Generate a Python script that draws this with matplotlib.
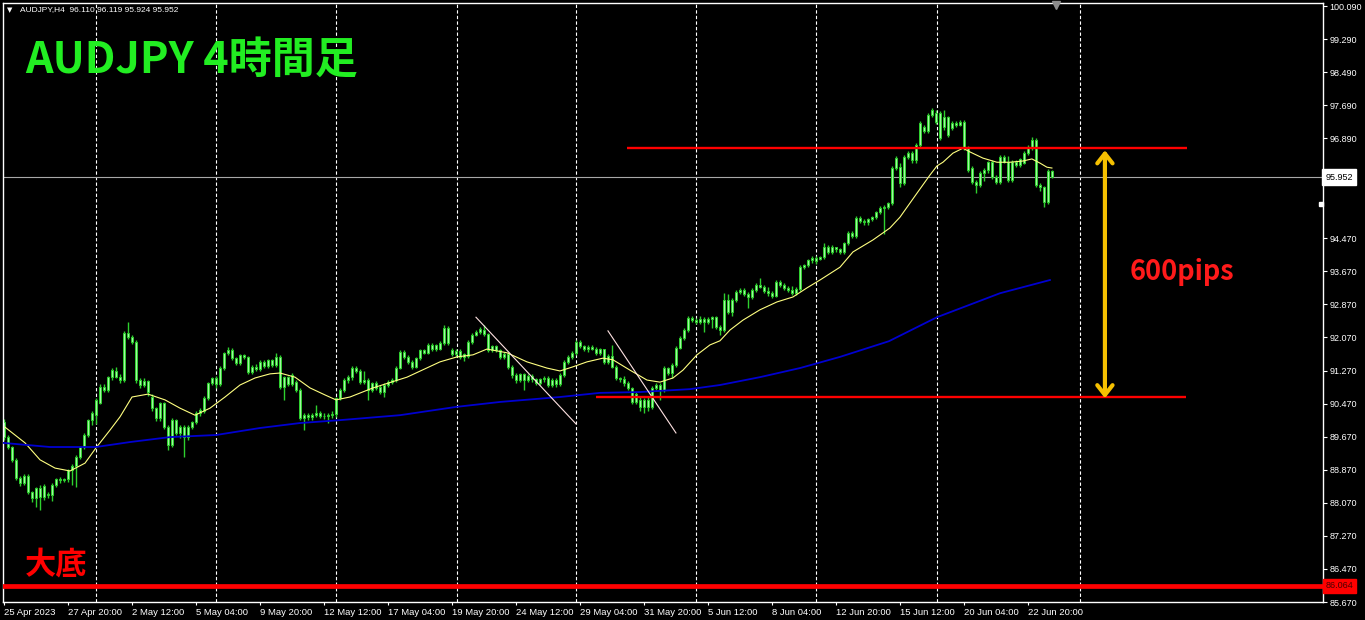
import matplotlib
matplotlib.use('Agg')
import matplotlib.pyplot as plt
import numpy as np

plt.rcParams['font.family'] = ['Liberation Sans', 'DejaVu Sans']

# ---------------- data (AUDJPY H4) ----------------
opens = [
 90.02, 89.66, 89.42, 89.11, 88.67, 88.55, 88.72, 88.33, 88.19, 88.43,
 88.21, 88.28, 88.25, 88.50, 88.65, 88.62, 88.65, 88.86, 88.96, 89.18,
 89.42, 89.71, 90.07, 90.20, 90.48, 90.87, 90.80, 91.11, 91.26, 91.12,
 91.04, 92.18, 92.07, 91.97, 91.04, 90.92, 91.02, 90.63, 90.36, 90.12,
 90.48, 89.90, 89.47, 90.07, 89.76, 89.90, 89.66, 89.90, 90.02, 90.24,
 90.30, 90.60, 90.97, 91.09, 90.95, 91.33, 91.69, 91.77, 91.57, 91.45,
 91.64, 91.60, 91.24, 91.36, 91.30, 91.48, 91.38, 91.52, 91.40, 91.60,
 90.87, 91.11, 90.95, 91.00, 90.80, 90.12, 90.19, 90.14, 90.20, 90.24,
 90.18, 90.16, 90.20, 90.22, 90.60, 90.80, 91.04, 91.11, 91.33, 91.26,
 90.99, 91.05, 90.80, 90.97, 90.88, 90.75, 90.92, 90.99, 91.04, 91.33,
 91.72, 91.60, 91.48, 91.36, 91.57, 91.77, 91.70, 91.89, 91.78, 91.80,
 91.94, 92.30, 91.77, 91.68, 91.75, 91.60, 91.62, 91.96, 92.13, 92.20,
 92.25, 92.15, 91.77, 91.86, 91.76, 91.60, 91.68, 91.36, 91.16, 91.04,
 91.18, 91.04, 91.14, 91.06, 90.97, 91.06, 91.10, 90.92, 91.05, 90.94,
 91.16, 91.48, 91.60, 91.69, 91.96, 91.86, 91.78, 91.84, 91.80, 91.70,
 91.78, 91.48, 91.62, 91.36, 91.09, 91.06, 90.98, 90.85, 90.51, 90.56,
 90.40, 90.55, 90.38, 90.85, 90.92, 90.80, 91.33, 91.20, 91.40, 91.82,
 92.06, 92.25, 92.54, 92.50, 92.44, 92.52, 92.44, 92.52, 92.56, 92.32,
 92.26, 92.98, 92.69, 92.98, 93.17, 93.22, 93.13, 93.04, 93.22, 93.34,
 93.30, 93.19, 93.14, 93.08, 93.41, 93.34, 93.27, 93.22, 93.15, 93.24,
 93.77, 93.82, 93.94, 93.99, 93.98, 94.01, 94.26, 94.15, 94.25, 94.20,
 94.14, 94.35, 94.60, 94.52, 94.96, 94.90, 94.86, 94.93, 94.99, 95.10,
 95.20, 95.22, 95.32, 96.17, 96.20, 95.81, 96.44, 96.53, 96.36, 96.73,
 97.16, 97.07, 97.45, 97.28, 97.50, 97.16, 97.40, 97.14, 97.26, 97.20,
 97.28, 96.65, 96.17, 95.83, 95.76, 96.05, 96.12, 96.31, 95.95, 95.83,
 96.44, 96.32, 95.88, 96.31, 96.25, 96.30, 96.53, 96.68, 96.85, 95.76,
 95.70, 95.35, 96.110]
highs = [
 90.10, 89.72, 89.45, 89.15, 88.72, 88.76, 88.76, 88.36, 88.46, 88.50,
 88.52, 88.32, 88.55, 88.68, 88.70, 88.68, 88.90, 89.00, 89.22, 89.45,
 89.75, 90.10, 90.30, 90.60, 90.94, 90.95, 91.15, 91.33, 91.35, 91.18,
 92.22, 92.44, 92.12, 92.02, 91.08, 91.08, 91.05, 90.70, 90.40, 90.52,
 90.52, 89.95, 90.12, 90.10, 89.95, 89.95, 89.95, 90.05, 90.28, 90.36,
 90.65, 91.00, 91.12, 91.13, 91.37, 91.73, 91.84, 91.82, 91.60, 91.68,
 91.66, 91.63, 91.40, 91.42, 91.52, 91.52, 91.56, 91.56, 91.69, 91.64,
 91.15, 91.14, 91.20, 91.05, 90.85, 90.24, 90.24, 90.24, 90.44, 90.28,
 90.25, 90.25, 90.28, 90.64, 90.85, 91.08, 91.16, 91.38, 91.38, 91.30,
 91.26, 91.10, 91.00, 91.02, 90.92, 90.96, 91.03, 91.08, 91.37, 91.76,
 91.76, 91.64, 91.52, 91.60, 91.80, 91.80, 91.93, 91.93, 91.92, 91.98,
 92.37, 92.35, 91.82, 91.80, 91.78, 91.70, 92.00, 92.18, 92.24, 92.32,
 92.37, 92.18, 91.90, 91.90, 91.80, 91.72, 91.72, 91.40, 91.22, 91.22,
 91.22, 91.18, 91.18, 91.10, 91.10, 91.14, 91.14, 91.10, 91.08, 91.20,
 91.52, 91.64, 91.74, 92.00, 92.00, 91.90, 91.88, 91.90, 91.84, 91.82,
 91.80, 91.66, 91.90, 91.40, 91.12, 91.14, 91.02, 90.88, 90.74, 90.62,
 90.60, 90.62, 90.90, 90.96, 90.98, 91.37, 91.36, 91.45, 91.86, 92.10,
 92.30, 92.58, 92.58, 92.55, 92.58, 92.56, 92.56, 92.60, 92.60, 92.36,
 93.15, 93.12, 93.02, 93.22, 93.26, 93.26, 93.18, 93.26, 93.38, 93.51,
 93.34, 93.30, 93.20, 93.46, 93.46, 93.38, 93.32, 93.32, 93.28, 93.82,
 93.86, 93.98, 94.04, 94.04, 94.05, 94.35, 94.30, 94.30, 94.26, 94.24,
 94.39, 94.65, 94.65, 95.00, 95.00, 94.94, 94.97, 95.02, 95.14, 95.24,
 95.28, 95.36, 96.22, 96.45, 96.30, 96.48, 96.58, 96.58, 96.78, 97.30,
 97.22, 97.50, 97.62, 97.58, 97.55, 97.57, 97.44, 97.30, 97.30, 97.32,
 97.33, 96.70, 96.22, 95.88, 96.10, 96.16, 96.35, 96.36, 96.00, 96.48,
 96.48, 96.46, 96.36, 96.36, 96.42, 96.58, 96.72, 96.92, 96.90, 95.80,
 95.74, 96.14, 96.119]
lows = [
 89.60, 89.38, 89.05, 88.62, 88.48, 88.50, 88.28, 88.09, 87.97, 87.90,
 88.15, 88.18, 88.12, 88.45, 88.55, 88.58, 88.58, 88.50, 88.45, 89.12,
 89.38, 89.66, 89.95, 89.98, 90.45, 90.75, 90.76, 91.05, 91.08, 90.97,
 91.00, 92.03, 91.92, 90.98, 90.85, 90.88, 90.66, 90.30, 90.05, 90.05,
 89.85, 89.35, 89.42, 89.70, 89.65, 89.18, 89.60, 89.85, 89.97, 90.18,
 90.25, 90.55, 90.92, 90.85, 90.90, 91.28, 91.64, 91.52, 91.40, 91.40,
 91.55, 91.18, 91.18, 91.25, 91.26, 91.33, 91.34, 91.35, 91.36, 90.82,
 90.56, 90.90, 90.90, 90.76, 90.08, 89.83, 90.08, 90.08, 90.14, 90.12,
 90.10, 90.00, 90.12, 90.15, 90.55, 90.75, 90.98, 91.05, 91.20, 90.95,
 90.95, 90.56, 90.76, 90.80, 90.70, 90.64, 90.88, 90.95, 91.00, 91.30,
 91.55, 91.44, 91.30, 91.32, 91.52, 91.66, 91.66, 91.74, 91.74, 91.76,
 91.90, 91.90, 91.62, 91.60, 91.55, 91.50, 91.58, 91.92, 92.10, 92.15,
 92.10, 91.72, 91.72, 91.72, 91.55, 91.55, 91.30, 91.10, 90.98, 91.00,
 90.80, 91.00, 91.00, 90.92, 90.92, 91.00, 90.88, 90.88, 90.86, 90.90,
 91.12, 91.44, 91.56, 91.65, 91.82, 91.74, 91.72, 91.76, 91.65, 91.64,
 91.44, 91.44, 91.32, 91.04, 91.00, 90.90, 90.80, 90.46, 90.46, 90.30,
 90.25, 90.30, 90.34, 90.80, 90.55, 90.76, 91.16, 91.10, 91.36, 91.78,
 92.02, 92.20, 92.45, 92.40, 92.40, 92.20, 92.40, 92.30, 92.28, 92.13,
 92.20, 92.64, 92.60, 92.94, 93.12, 93.08, 92.78, 93.00, 93.18, 93.26,
 93.14, 93.08, 93.02, 93.04, 93.30, 93.22, 93.16, 93.10, 93.10, 93.20,
 93.72, 93.78, 93.88, 93.86, 93.94, 93.98, 94.10, 94.10, 94.15, 94.08,
 94.10, 94.30, 94.48, 94.48, 94.85, 94.80, 94.80, 94.90, 94.94, 95.06,
 94.58, 95.18, 95.28, 96.12, 95.70, 95.76, 96.40, 96.30, 96.30, 96.68,
 97.02, 97.02, 97.40, 97.24, 96.85, 97.10, 96.92, 97.08, 97.16, 97.18,
 96.60, 96.08, 95.78, 95.57, 95.70, 95.85, 96.05, 95.90, 95.78, 95.78,
 96.28, 95.84, 95.84, 96.20, 96.20, 96.26, 96.48, 96.60, 95.72, 95.62,
 95.23, 95.30, 95.924]
closes = [
 89.66, 89.42, 89.11, 88.67, 88.55, 88.72, 88.33, 88.19, 88.43, 88.21,
 88.48, 88.25, 88.50, 88.65, 88.62, 88.65, 88.86, 88.96, 89.18, 89.42,
 89.71, 90.07, 90.24, 90.56, 90.87, 90.80, 91.11, 91.28, 91.12, 91.04,
 92.18, 92.07, 91.97, 91.04, 90.92, 91.02, 90.75, 90.36, 90.12, 90.48,
 89.90, 89.47, 90.07, 89.76, 89.90, 89.66, 89.90, 90.02, 90.24, 90.32,
 90.60, 90.97, 91.09, 90.95, 91.33, 91.69, 91.77, 91.57, 91.45, 91.64,
 91.60, 91.24, 91.36, 91.30, 91.48, 91.38, 91.52, 91.40, 91.60, 90.87,
 91.11, 90.95, 91.16, 90.80, 90.12, 90.19, 90.14, 90.20, 90.24, 90.18,
 90.16, 90.20, 90.22, 90.60, 90.80, 91.04, 91.11, 91.33, 91.26, 90.99,
 91.05, 90.80, 90.97, 90.85, 90.75, 90.92, 90.99, 91.04, 91.33, 91.72,
 91.60, 91.48, 91.36, 91.57, 91.77, 91.70, 91.89, 91.78, 91.89, 91.94,
 92.30, 91.94, 91.68, 91.75, 91.60, 91.66, 91.96, 92.13, 92.20, 92.28,
 92.15, 91.77, 91.86, 91.76, 91.60, 91.68, 91.36, 91.16, 91.04, 91.18,
 91.04, 91.14, 91.06, 90.97, 91.06, 91.10, 90.92, 91.05, 90.94, 91.16,
 91.48, 91.60, 91.69, 91.96, 91.86, 91.78, 91.84, 91.80, 91.70, 91.78,
 91.48, 91.62, 91.36, 91.09, 91.06, 90.98, 90.85, 90.51, 90.70, 90.40,
 90.55, 90.38, 90.85, 90.92, 90.80, 91.33, 91.20, 91.40, 91.82, 92.06,
 92.25, 92.54, 92.50, 92.44, 92.52, 92.44, 92.52, 92.56, 92.32, 92.26,
 92.98, 92.69, 92.98, 93.17, 93.22, 93.13, 93.04, 93.22, 93.34, 93.30,
 93.19, 93.14, 93.08, 93.41, 93.34, 93.27, 93.22, 93.15, 93.24, 93.77,
 93.82, 93.94, 93.99, 93.92, 94.01, 94.26, 94.15, 94.25, 94.20, 94.14,
 94.35, 94.60, 94.52, 94.96, 94.90, 94.86, 94.93, 94.99, 95.10, 95.20,
 95.22, 95.32, 96.17, 96.41, 95.81, 96.44, 96.53, 96.36, 96.73, 97.26,
 97.07, 97.45, 97.57, 97.50, 96.90, 97.40, 96.97, 97.26, 97.20, 97.28,
 96.65, 96.12, 95.83, 95.76, 96.05, 96.12, 96.31, 95.95, 95.83, 96.44,
 96.32, 95.88, 96.31, 96.25, 96.38, 96.53, 96.68, 96.85, 95.76, 95.70,
 95.35, 96.10, 95.952]

# moving averages: (bar index, price)
ma_fast_idx = [0.25, 5.25, 9, 12.75, 16.5, 20.25, 23, 26.5, 29, 32, 36, 40.25, 44, 47.75,
               51.5, 55.25, 59, 62.75, 66.5, 69, 72.75, 76.5, 80.25, 83, 86.5, 92.25,
               100.75, 109, 113.25, 117.25, 120.75, 125.75, 130.75, 135.75, 139, 142.25,
               145.75, 149.75, 152.25, 156.5, 160.75, 164, 167.25, 169.75, 173.25, 176.5,
               179, 181.5, 184.75, 189, 193.25, 197.25, 200.75, 204, 209, 212.25, 217.25,
               221.5, 224, 228.25, 231.5, 233.25, 234.75, 237.25, 239.75, 241.5, 244.75,
               248.25, 251.5, 254.75, 257, 259, 260.75, 262]
ma_fast_val = [89.90, 89.52, 89.11, 88.91, 88.84, 89.03, 89.40, 89.83, 90.15, 90.63, 90.70,
               90.56, 90.36, 90.19, 90.36, 90.63, 90.92, 91.09, 91.19, 91.21, 91.11, 90.85,
               90.68, 90.56, 90.63, 90.85, 91.11, 91.48, 91.60, 91.65, 91.79, 91.70, 91.48,
               91.33, 91.26, 91.36, 91.48, 91.57, 91.53, 91.28, 91.04, 90.99, 91.09, 91.28,
               91.65, 91.89, 91.99, 92.25, 92.49, 92.74, 92.93, 93.05, 93.27, 93.46, 93.77,
               94.14, 94.43, 94.72, 94.98, 95.56, 96.00, 96.22, 96.31, 96.53, 96.65, 96.56,
               96.41, 96.31, 96.31, 96.34, 96.39, 96.29, 96.19, 96.17]
ma_slow_idx = [-0.25, 11.5, 23, 31.5, 41.5, 53, 64, 74, 84, 99, 113, 124, 139, 149, 159,
               171.5, 179, 189, 199, 209, 221.25, 233.25, 249, 261.5]
ma_slow_val = [89.52, 89.42, 89.42, 89.54, 89.66, 89.71, 89.88, 90.00, 90.07, 90.19, 90.39,
               90.51, 90.63, 90.73, 90.75, 90.82, 90.92, 91.11, 91.33, 91.60, 91.98, 92.56,
               93.14, 93.46]

# axis labels
price_ticks = [100.09, 99.29, 98.49, 97.69, 96.89, 96.09, 94.47, 93.67, 92.87, 92.07,
               91.27, 90.47, 89.67, 88.87, 88.07, 87.27, 86.47, 85.67]
date_labels = ['25 Apr 2023', '27 Apr 20:00', '2 May 12:00', '5 May 04:00', '9 May 20:00',
               '12 May 12:00', '17 May 04:00', '19 May 20:00', '24 May 12:00', '29 May 04:00',
               '31 May 20:00', '5 Jun 12:00', '8 Jun 04:00', '12 Jun 20:00', '15 Jun 12:00',
               '20 Jun 04:00', '22 Jun 20:00']
date_label_bars = [0, 16, 32, 48, 64, 80, 96, 112, 128, 144, 160, 176, 192, 208, 224, 240, 256]
week_grid_bars = [23, 53, 83, 113.25, 143, 173, 203, 233.25, 269]

# drawn objects
last_price = 95.952
bottom_level = 86.064
resistance = 96.65
support = 90.63
resistance_span = (155.75, 295.75)
support_span = (148, 295.5)
trend1 = ([118, 143], [92.56, 89.98])
trend2 = ([151, 168], [92.23, 89.76])
arrow_bar = 275.25
arrow_span = (90.60, 96.60)
pips_text_pos = (281.5, 93.65)

# ---------------- figure ----------------
W, H = 1365, 620
fig = plt.figure(figsize=(W / 100, H / 100), dpi=100, facecolor='black')
ax = fig.add_axes([2.7 / W, 1 - 602 / H, (1322.7 - 2.7) / W, (602 - 2.5) / H])
ax.set_facecolor('black')
ax.set_xlim(-0.33, 329.7)
ax.set_ylim(85.67, 100.175)

n = min(len(opens), len(highs), len(lows), len(closes))
o = np.array(opens[:n]); h = np.array(highs[:n]); l = np.array(lows[:n]); c = np.array(closes[:n])
xs = np.arange(n)

for g in week_grid_bars:
    ax.axvline(g, color='white', lw=0.8, ls=(0, (3, 2)), zorder=0.5)

ax.axhline(last_price, color='#a8a8a8', lw=0.8, zorder=1.2)

EDGE = '#2ed02e'
FILL = '#a2f5a2'
ax.vlines(xs, l, h, color=EDGE, lw=1.0, zorder=2)
body_bot = np.minimum(o, c)
body_h = np.maximum(np.abs(c - o), 0.012)
ax.bar(xs, body_h, bottom=body_bot, width=0.68, color=FILL, edgecolor=EDGE,
       linewidth=0.7, zorder=2.2)

ax.plot(ma_fast_idx, ma_fast_val, color='#ffff80', lw=0.8, zorder=3)
ax.plot(ma_slow_idx, ma_slow_val, color='#0000d0', lw=1.3, zorder=3)

ax.plot(*trend1, color='#ffe2e2', lw=0.8, zorder=3.5)
ax.plot(*trend2, color='#ffe2e2', lw=0.8, zorder=3.5)

ax.hlines(resistance, *resistance_span, color='#ff0000', lw=1.7, zorder=4)
ax.hlines(support, *support_span, color='#ff0000', lw=1.7, zorder=4)
ax.axhline(bottom_level, color='#ff0000', lw=3.4, zorder=4)

ax.annotate('', xy=(arrow_bar, arrow_span[1]), xytext=(arrow_bar, arrow_span[0]),
            arrowprops=dict(arrowstyle='<->,head_length=0.7,head_width=0.55',
                            color='#f5c000', lw=3, shrinkA=0, shrinkB=0), zorder=4)
ax.text(*pips_text_pos, '600pips', color='#ff1a1a', fontsize=19.5, fontweight='bold',
        family=['Noto Sans CJK JP', 'DejaVu Sans'], ha='left', va='center', zorder=5)

# spines / ticks
for s in ax.spines.values():
    s.set_color('white')
    s.set_linewidth(1.0)
ax.yaxis.tick_right()
ax.set_yticks(price_ticks)
ax.set_yticklabels([f'{v:.3f}' for v in price_ticks])
ax.tick_params(axis='y', colors='white', labelsize=6.5, length=3, width=0.8, pad=2)
ax.set_xticks(date_label_bars)
ax.set_xticklabels(date_labels)
ax.tick_params(axis='x', colors='white', labelsize=6.8, length=2.5, width=0.8, pad=1.5)
for lbl in ax.get_xticklabels():
    lbl.set_ha('left')

# price labels on the axis
ytr = ax.get_yaxis_transform()
ax.text(1.0022, last_price, f'{last_price:.3f}', transform=ytr, ha='left', va='center',
        fontsize=6.5, color='black', clip_on=False, zorder=10,
        bbox=dict(boxstyle='square,pad=0.35', fc='white', ec='white'))
ax.text(1.0022, bottom_level, f'{bottom_level:.3f}', transform=ytr, ha='left', va='center',
        fontsize=6.5, color='#4a0000', clip_on=False, zorder=10,
        bbox=dict(boxstyle='square,pad=0.3', fc='#ff0000', ec='#ff0000'))
ax.plot([329.3], [95.29], marker='s', ms=2.2, color='white', clip_on=False, zorder=10)
ax.plot([263], [100.11], marker='v', ms=6, color='#8c8c8c', clip_on=False, zorder=10)

# header texts
fig.text(7 / W, 1 - 10 / H, '▼', color='white', fontsize=5, va='center',
         family=['DejaVu Sans'])
fig.text(20 / W, 1 - 10 / H, 'AUDJPY,H4  96.110 96.119 95.924 95.952', color='white',
         fontsize=6, va='center')
fig.text(25 / W, 1 - 73 / H, 'AUDJPY 4時間足', color='#22ee22', fontsize=31,
         fontweight='bold', family=['Noto Sans CJK JP', 'DejaVu Sans'], va='baseline')
fig.text(25 / W, 1 - 564 / H, '大底', color='#ff0000', fontsize=22.5, fontweight='bold',
         family=['Noto Sans CJK JP', 'DejaVu Sans'], va='center')

fig.savefig('out.png', dpi=100, facecolor='black')
